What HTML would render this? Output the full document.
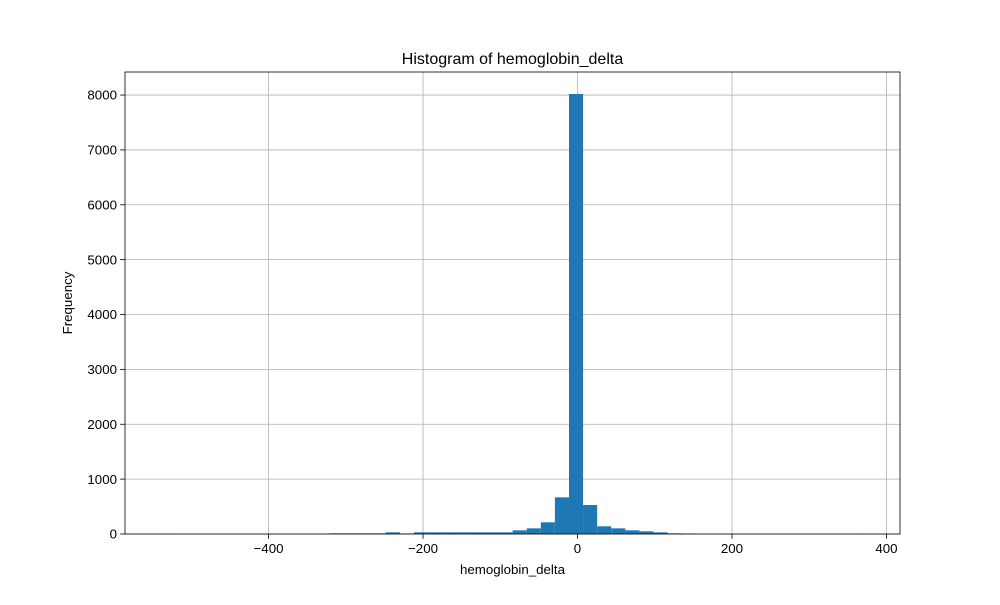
<!DOCTYPE html>
<html><head><meta charset="utf-8"><style>
body{margin:0;background:#fff;}
svg text{font-family:"Liberation Sans","DejaVu Sans",sans-serif;fill:#000;}
</style></head><body>
<svg id="chart" width="1000" height="600" viewBox="0 0 1000 600">
<rect width="1000" height="600" fill="#fff"/>
<g id="grid"></g>
<g id="bars"></g>
<g id="axes"></g>
<text x="512.5" y="64" text-anchor="middle" font-size="16">Histogram of hemoglobin_delta</text>
<text x="512.5" y="574" text-anchor="middle" font-size="13.3">hemoglobin_delta</text>
<text x="72" y="303" text-anchor="middle" font-size="13.3" transform="rotate(-90 72 303)">Frequency</text>
</svg>
<script>
const binStart = -540;
const binWidth = 18.24;
const counts = [1,0,0,0,0,0,0,0,0,0,0,0,12,12,12,12,30,10,30,30,30,30,30,30,30,67,103,213,668,8020,528,140,103,67,49,30,12,8,0,0,0,0,0,0,0,0,0,0,0,1];
const xTicks = [-400,-200,0,200,400];
const yTicks = [0,1000,2000,3000,4000,5000,6000,7000,8000];
const xMin = -585.8, xMax = 417.5, yMax = 8420;
const L = 125, R = 900, T = 72, B = 534;
const NS = "http://www.w3.org/2000/svg";
function sx(v){return L + (v - xMin) / (xMax - xMin) * (R - L);}
function sy(v){return B - v / yMax * (B - T);}
function mk(tag, attrs, parent){const e=document.createElementNS(NS,tag);for(const k in attrs)e.setAttribute(k,attrs[k]);parent.appendChild(e);return e;}
const grid=document.getElementById('grid'), bars=document.getElementById('bars'), axes=document.getElementById('axes');
counts.forEach((c,i)=>{
  if(c<=0) return;
  const x0=sx(binStart+i*binWidth), x1=sx(binStart+(i+1)*binWidth);
  const r=mk('rect',{x:x0,y:sy(c),width:x1-x0,height:B-sy(c),fill:'#1f77b4'},bars);
  
  
});
xTicks.forEach(t=>{
  const x=sx(t);
  const g=mk('line',{x1:x,x2:x,y1:T,y2:B,stroke:'#b0b0b0','stroke-width':0.8},grid);
  
  
  mk('line',{x1:x,x2:x,y1:B,y2:B+4.9,stroke:'#000','stroke-width':0.8},axes);
  const tx=mk('text',{x:x,y:B+19,'text-anchor':'middle','font-size':13.3},axes);
  tx.textContent=t<0?'\u2212'+Math.abs(t):String(t);
  
  
});
yTicks.forEach(t=>{
  const y=sy(t);
  const g=mk('line',{x1:L,x2:R,y1:y,y2:y,stroke:'#b0b0b0','stroke-width':0.8},grid);
  
  
  mk('line',{x1:L-4.9,x2:L,y1:y,y2:y,stroke:'#000','stroke-width':0.8},axes);
  const tx=mk('text',{x:L-8,y:y+4.7,'text-anchor':'end','font-size':13.3},axes);
  tx.textContent=String(t);
  
  
});
const frame=mk('rect',{x:L,y:T,width:R-L,height:B-T,fill:'none',stroke:'#000','stroke-width':0.8},axes);


</script>
</body></html>
